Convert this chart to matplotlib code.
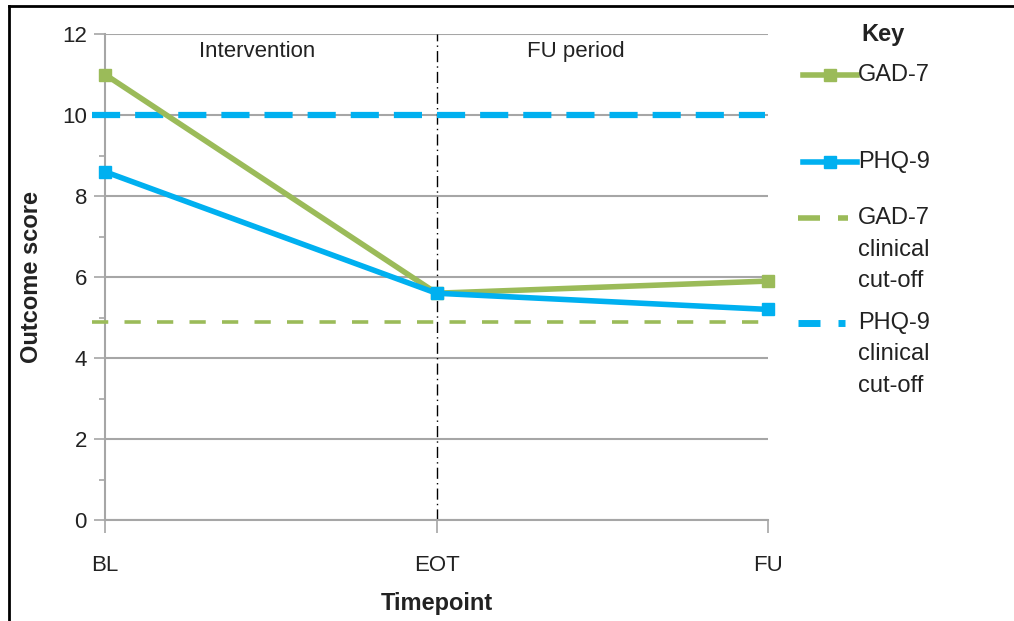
import matplotlib.pyplot as plt
from matplotlib.lines import Line2D
from matplotlib.ticker import MultipleLocator

timepoints = ["BL", "EOT", "FU"]
gad7 = [11.0, 5.6, 5.9]
phq9 = [8.6, 5.6, 5.2]
gad7_cutoff = 4.9
phq9_cutoff = 10.0
phase_labels = ["Intervention", "FU period"]

green = "#9BBB59"
blue = "#00B0F0"
grid_grey = "#A6A6A6"
text_col = "#222222"
plt.rcParams["font.family"] = ["Liberation Sans", "DejaVu Sans"]

fig = plt.figure(figsize=(10.14, 6.21), dpi=100)
ax = fig.add_axes([0.1036, 0.1626, 0.6538, 0.7826])

x = list(range(len(timepoints)))

# clinical cut-off lines run slightly past the first category
ax.plot([-0.04, 1.99], [phq9_cutoff] * 2, color=blue, lw=4.5,
        dashes=(4.5, 2.4), dash_capstyle="butt", clip_on=False, zorder=3)
ax.plot([-0.04, 1.99], [gad7_cutoff] * 2, color=green, lw=2.6,
        dashes=(4.5, 4.5), dash_capstyle="butt", clip_on=False, zorder=3)

ax.plot(x, gad7, color=green, lw=4, marker="s", ms=9, clip_on=False, zorder=4)
ax.plot(x, phq9, color=blue, lw=4, marker="s", ms=9, clip_on=False, zorder=5)

# end of treatment divider
ax.axvline(1, color="black", lw=1, ls=(0, (8, 3, 1, 3)), zorder=2)

ax.set_xlim(0, 2)
ax.set_ylim(0, 12)
ax.set_xticks(x)
ax.set_xticklabels(timepoints)
ax.yaxis.set_major_locator(MultipleLocator(2))
ax.yaxis.set_minor_locator(MultipleLocator(1))
ax.grid(axis="y", color=grid_grey, lw=1.5, zorder=1)
ax.set_axisbelow(True)

for side in ["top", "right"]:
    ax.spines[side].set_visible(False)
for side in ["left", "bottom"]:
    ax.spines[side].set_color(grid_grey)
    ax.spines[side].set_linewidth(1.5)

ax.tick_params(axis="y", which="major", length=8, width=1.2, color=grid_grey,
               labelsize=16, pad=5, labelcolor=text_col)
ax.tick_params(axis="y", which="minor", length=4, width=1.2, color=grid_grey)
ax.tick_params(axis="x", length=9, width=1.2, color=grid_grey, labelsize=16,
               pad=16, labelcolor=text_col)

ax.set_xlabel("Timepoint", fontsize=17, fontweight="bold", labelpad=12,
              color=text_col)
ax.set_ylabel("Outcome score", fontsize=17, fontweight="bold", labelpad=14,
              color=text_col)

ax.text(0.46, 11.58, phase_labels[0], ha="center", va="center", fontsize=16,
        color=text_col)
ax.text(1.42, 11.58, phase_labels[1], ha="center", va="center", fontsize=16,
        color=text_col)

# key drawn on the right of the figure
W, H = 1014, 621


def fx(px):
    return px / W


def fy(py):
    return 1 - py / H


fig.text(fx(883), fy(35), "Key", ha="center", va="center", fontsize=17,
         fontweight="bold", color=text_col)

key_rows = [
    (75, green, dict(lw=4, marker="s", ms=8, markevery=[1]), ["GAD-7"]),
    (162, blue, dict(lw=4, marker="s", ms=8, markevery=[1]), ["PHQ-9"]),
    (218, green, dict(lw=4), ["GAD-7", "clinical", "cut-off"]),
    (323, blue, dict(lw=5), ["PHQ-9", "clinical", "cut-off"]),
]
for i, (py, col, style, lines) in enumerate(key_rows):
    if i < 2:
        fig.add_artist(Line2D([fx(803), fx(830), fx(857)], [fy(py)] * 3,
                              color=col, transform=fig.transFigure, **style))
    else:
        fig.add_artist(Line2D([fx(798), fx(820)], [fy(py)] * 2, color=col,
                              solid_capstyle="butt",
                              transform=fig.transFigure, **style))
        fig.add_artist(Line2D([fx(838), fx(848 if i == 2 else 845)],
                              [fy(py)] * 2, color=col, solid_capstyle="butt",
                              transform=fig.transFigure, **style))
    for j, t in enumerate(lines):
        fig.text(fx(858), fy(py + 31.5 * j), t, ha="left", va="center",
                 fontsize=17, color=text_col)

# frame along the top and left edges
fig.add_artist(Line2D([fx(9), fx(9)], [fy(6), 0], color="black", lw=2,
                      transform=fig.transFigure))
fig.add_artist(Line2D([fx(9), 1], [fy(6), fy(6)], color="black", lw=2,
                      transform=fig.transFigure))

fig.savefig("out.png", dpi=100)
